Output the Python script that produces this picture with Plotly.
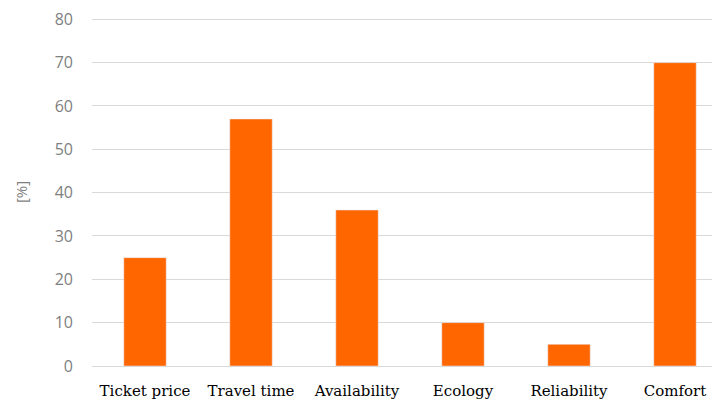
import plotly.graph_objects as go

categories = ["Ticket price", "Travel time", "Availability", "Ecology", "Reliability", "Comfort"]
values = [25, 57, 36, 10, 5, 70]
y_ticks = [0, 10, 20, 30, 40, 50, 60, 70, 80]

fig = go.Figure(go.Bar(x=categories, y=values, marker_color="#FF6600", width=0.4))

fig.update_layout(
    width=720, height=400,
    margin=dict(l=84, r=0, t=10, b=42),
    plot_bgcolor="white", paper_bgcolor="white",
    showlegend=False,
    xaxis=dict(range=[-0.5, 5.5], showgrid=False, showline=False, ticks="", automargin=False,
               ticklabelstandoff=14, ticklabeloverflow="allow",
               tickfont=dict(family="DejaVu Serif", size=15, color="#000000")),
    yaxis=dict(range=[0, 80.3], tickvals=y_ticks, showgrid=True, gridcolor="#d9d9d9", gridwidth=1,
               zeroline=True, zerolinecolor="#d9d9d9", zerolinewidth=1, automargin=False,
               ticklabelstandoff=18, ticklabeloverflow="allow",
               tickfont=dict(family="Open Sans", size=16, color="#7f7f7f"),
               title=dict(text="[%]", font=dict(family="Open Sans", size=15, color="#7f7f7f"), standoff=23)),
)

fig.write_html("out.html")
